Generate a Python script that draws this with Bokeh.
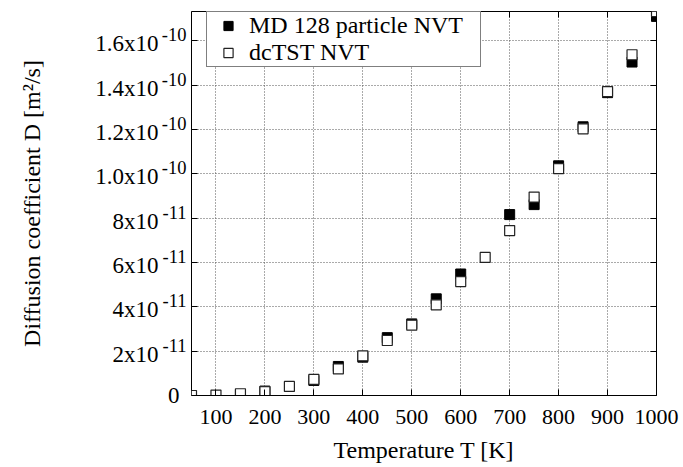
import numpy as np
from bokeh.plotting import figure
from bokeh.models import (Range1d, FixedTicker, LinearAxis, Legend, LegendItem,
                          CustomLabelingPolicy)
from bokeh.embed import file_html
from bokeh.resources import INLINE

# ---------------- data ----------------
temp_dctst = [50, 100, 150, 200, 250, 300, 350, 400, 450, 500,
              550, 600, 650, 700, 750, 800, 850, 900, 950, 1000]
d_dctst_e11 = [0.0, 0.02, 0.08, 0.17, 0.41, 0.73, 1.20, 1.79, 2.48, 3.17,
               4.09, 5.14, 6.23, 7.44, 8.95, 10.23, 12.03, 13.71, 15.37, 17.32]

temp_md = [150, 200, 300, 350, 400, 450, 500, 550, 600,
           700, 750, 800, 850, 900, 950, 1000]
d_md_e11 = [0.03, 0.20, 0.68, 1.31, 1.73, 2.61, 3.23, 4.36, 5.48,
            8.16, 8.61, 10.36, 12.12, 13.66, 15.04, 17.10]

x_ticks = [100, 200, 300, 400, 500, 600, 700, 800, 900, 1000]
y_ticks_e11 = [0, 2, 4, 6, 8, 10, 12, 14, 16]
y_tick_base = ["0", "2x10", "4x10", "6x10", "8x10", "1.0x10", "1.2x10", "1.4x10", "1.6x10"]
y_tick_exp = ["", "-11", "-11", "-11", "-11", "-10", "-10", "-10", "-10"]

series_names = ["MD 128 particle NVT", "dcTST NVT"]
x_label = "Temperature T [K]"
y_label = "Diffusion coefficient D [m\u00b2/s]"

X_MIN, X_MAX = 50, 1000
Y_TOP_E11 = 17.32
d_dctst = [v * 1e-11 for v in d_dctst_e11]
d_md = [v * 1e-11 for v in d_md_e11]
y_ticks = [v * 1e-11 for v in y_ticks_e11]

FONT = "Liberation Serif"
FRAME_H = 384  # px height of plotting frame
px = Y_TOP_E11 / FRAME_H  # data units (1e-11) per pixel

no_labels = CustomLabelingPolicy(code="for (const i of indices) { if (i < 0) yield i }")

p = figure(width=683, height=467, output_backend="svg", toolbar_location=None,
           x_range=Range1d(X_MIN, X_MAX), y_range=Range1d(0, Y_TOP_E11 * 1e-11),
           min_border_left=191, min_border_right=27, min_border_top=11, min_border_bottom=72)
p.background_fill_color = "white"
p.border_fill_color = "white"
p.outline_line_color = "black"
p.outline_line_width = 1

p.extra_y_ranges = {
    "e11": Range1d(0, Y_TOP_E11),
    "exp": Range1d(-6 * px, Y_TOP_E11 - 6 * px),   # exponents sit 6 px above the tick
    "base": Range1d(3 * px, Y_TOP_E11 + 3 * px),   # mantissas sit 3 px below the tick
}

p.xaxis.ticker = FixedTicker(ticks=x_ticks)
p.yaxis.ticker = FixedTicker(ticks=y_ticks)

for ax in [p.xaxis[0], p.yaxis[0]]:
    ax.major_tick_in = 6
    ax.major_tick_out = 0
    ax.minor_tick_in = 0
    ax.minor_tick_out = 0
    ax.axis_line_color = "black"
    ax.major_tick_line_color = "black"
    ax.axis_label_text_font = FONT
    ax.axis_label_text_font_size = "24px"
    ax.axis_label_text_font_style = "normal"
    ax.axis_label_text_color = "black"

p.xaxis.major_label_text_font = FONT
p.xaxis.major_label_text_font_size = "22px"
p.xaxis.major_label_text_color = "black"
p.xaxis.major_label_standoff = 14
p.xaxis.axis_label = x_label
p.xaxis.axis_label_standoff = 10

p.yaxis.major_label_text_font_size = "1px"
p.yaxis.major_label_standoff = 0
p.yaxis.axis_label_standoff = 0
p.yaxis.major_label_policy = no_labels
p.yaxis.fixed_location = X_MIN


def label_axis(range_name, ticks, texts, size, standoff, **kw):
    return LinearAxis(y_range_name=range_name, ticker=FixedTicker(ticks=ticks),
                      major_label_overrides=dict(zip(ticks, texts)),
                      major_label_text_font=FONT, major_label_text_font_size=size,
                      major_label_text_color="black", major_label_standoff=standoff,
                      major_tick_in=0, major_tick_out=0, minor_tick_in=0, minor_tick_out=0,
                      axis_line_color=None, **kw)


# y tick labels: exponents, mantissas (+ axis title) and the lone "0"
p.add_layout(label_axis("exp", y_ticks_e11[1:], y_tick_exp[1:], "18.5px", 5), "left")
p.add_layout(label_axis("base", y_ticks_e11[1:], y_tick_base[1:], "23px", 0,
                        axis_label=y_label, axis_label_standoff=47,
                        axis_label_text_font=FONT, axis_label_text_font_size="24px",
                        axis_label_text_font_style="normal", axis_label_text_color="black"),
             "left")
p.add_layout(label_axis("e11", y_ticks_e11[:1], y_tick_base[:1], "23px", -163), "left")

# mirror axes (ticks only)
top = LinearAxis(ticker=FixedTicker(ticks=x_ticks), major_label_text_font_size="1px",
                 major_label_policy=no_labels, fixed_location=Y_TOP_E11 * 1e-11,
                 major_tick_in=6, major_tick_out=0, minor_tick_in=0, minor_tick_out=0,
                 major_label_standoff=0, axis_line_color="black")
p.add_layout(top, "above")
right = LinearAxis(ticker=FixedTicker(ticks=y_ticks), major_label_text_font_size="1px",
                   major_label_policy=no_labels, fixed_location=X_MAX,
                   major_tick_in=6, major_tick_out=0, minor_tick_in=0, minor_tick_out=0,
                   major_label_standoff=0, axis_line_color="black")
p.add_layout(right, "right")

for g in [p.xgrid[0], p.ygrid[0]]:
    g.grid_line_color = "#555555"
    g.grid_line_dash = "1 2"
    g.grid_line_width = 1

r_md = p.scatter(temp_md, d_md, marker="square", size=10,
                 fill_color="black", line_color="black", line_width=1)
r_dc = p.scatter(temp_dctst, d_dctst, marker="square", size=10,
                 fill_color="white", line_color="#222222", line_width=1.2)

legend = Legend(items=[LegendItem(label=series_names[0], renderers=[r_md]),
                       LegendItem(label=series_names[1], renderers=[r_dc])],
                location=(15, 328), margin=0, padding=0, spacing=0,
                glyph_width=42, glyph_height=23, label_height=23, label_width=231,
                label_standoff=0, label_text_font=FONT, label_text_font_size="24px",
                label_text_color="black", border_line_color="black", border_line_width=1,
                background_fill_color="white", background_fill_alpha=1.0)
p.add_layout(legend)

open("out.html", "w").write(file_html(p, INLINE))
